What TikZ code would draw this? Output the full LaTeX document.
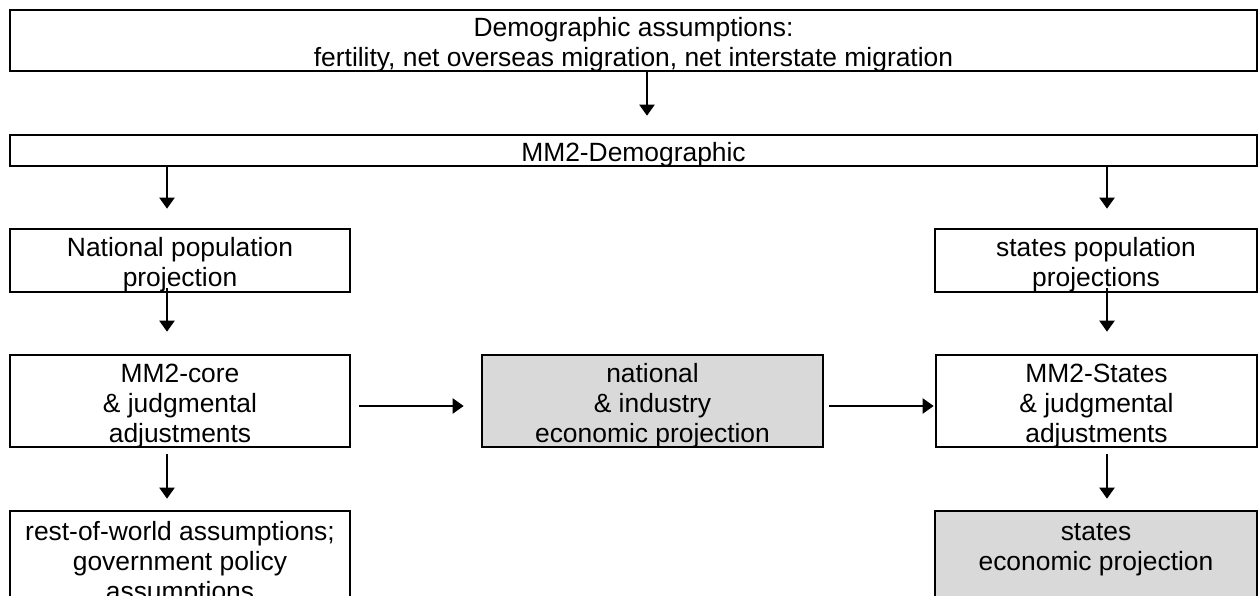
\documentclass[tikz,border=0pt]{standalone}
\usepackage{fontspec}
\setmainfont{Liberation Sans}
\usetikzlibrary{arrows.meta}
\definecolor{boxgray}{HTML}{D9D9D9}
\newcommand\firstln{\rule{0pt}{28pt}}
\tikzset{
  box/.style={draw=black, line width=2.6pt, rectangle, inner xsep=0pt, inner ysep=-3pt, align=center,
    font=\fontsize{26.4}{30}\selectfont},
  graybox/.style={box, fill=boxgray},
  arr/.style={-{Triangle[width=15pt,length=11pt]}, line width=2.1pt}
}
\begin{document}
\begin{tikzpicture}[x=1pt,y=-1pt]
\useasboundingbox (0,0) rectangle (1259,596);
\clip (0,0) rectangle (1259,596);
\coordinate (xt) at (647,0);
\coordinate (xl) at (167,0);
\coordinate (xr) at (1107,0);
\coordinate (yh) at (0,406);

\node[box, minimum width=1247pt, minimum height=61pt] (top) at (633.5,40.5)
  {\firstln Demographic assumptions:\\fertility, net overseas migration, net interstate migration};
\node[box, minimum width=1247pt, minimum height=31pt] (mm2d) at (633.5,150.5) {\firstln MM2-Demographic};
\node[box, minimum width=340pt, minimum height=63pt] (nat) at (180,260.5) {\firstln National population\\projection};
\node[box, minimum width=322pt, minimum height=63pt] (stp) at (1096,260.5) {\firstln states population\\projections};
\node[box, minimum width=340pt, minimum height=92pt] (core) at (180,401) {\firstln MM2-core\\\& judgmental\\adjustments};
\node[graybox, minimum width=341pt, minimum height=92pt] (natecon) at (652.5,401) {\firstln national\\\& industry\\economic projection};
\node[box, minimum width=321pt, minimum height=92pt] (mms) at (1096.5,401) {\firstln MM2-States\\\& judgmental\\adjustments};
\node[box, minimum width=340pt, minimum height=96pt] (row) at (180,559) {\firstln rest-of-world assumptions;\\government policy\\assumptions};
\node[graybox, minimum width=322pt, minimum height=96pt] (sec) at (1096,559) {\firstln states\\economic projection\\\phantom{p}};

\draw[arr, shorten >=18pt] (top.south -| xt) -- (mm2d.north -| xt);
\draw[arr, shorten >=19pt] (mm2d.south -| xl) -- (nat.north -| xl);
\draw[arr, shorten >=19pt] (mm2d.south -| xr) -- (stp.north -| xr);
\draw[arr, shorten <=-5pt, shorten >=22pt] (nat.south -| xl) -- (core.north -| xl);
\draw[arr, shorten <=-5pt, shorten >=22pt] (stp.south -| xr) -- (mms.north -| xr);
\draw[arr, shorten <=6pt, shorten >=11pt] (core.south -| xl) -- (row.north -| xl);
\draw[arr, shorten <=6pt, shorten >=11pt] (mms.south -| xr) -- (sec.north -| xr);
\draw[arr, shorten <=8pt, shorten >=17pt] (core.east |- yh) -- (natecon.west |- yh);
\draw[arr, shorten <=5pt, shorten >=1pt] (natecon.east |- yh) -- (mms.west |- yh);
\end{tikzpicture}
\end{document}
